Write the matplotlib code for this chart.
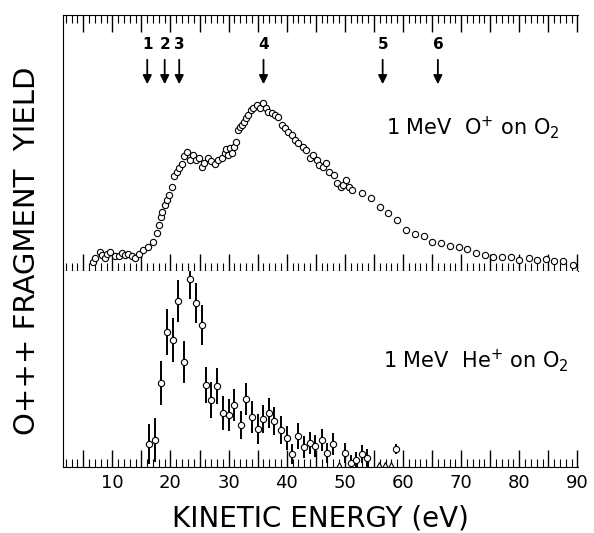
import matplotlib.pyplot as plt
import numpy as np

# upper panel: 1 MeV O+ on O2 (energy in eV, yield in arbitrary units)
o_energy = [6.65, 7.04, 7.79, 8.19, 8.76, 9.05, 9.62, 10.37, 11.22, 11.63, 12.09, 12.66,
            13.34, 13.92, 14.66, 15.35, 16.21, 16.95, 17.64, 17.99, 18.33, 18.61, 19.07,
            19.47, 19.82, 20.22, 20.68, 21.08, 21.48, 21.94, 22.39, 22.79, 23.37, 23.94,
            24.4, 24.97, 25.38, 25.77, 26.41, 26.92, 27.66, 28.23, 28.81, 29.38, 29.49,
            29.95, 30.24, 30.64, 30.93, 31.27, 31.67, 31.96, 32.36, 32.65, 32.93, 33.39,
            33.78, 34.24, 34.82, 35.4, 35.97, 36.43, 36.83, 37.4, 37.97, 38.54, 39.12,
            39.69, 40.26, 40.84, 41.41, 41.98, 42.73, 43.3, 43.99, 44.55, 45.13, 45.59,
            46.16, 46.74, 47.31, 48.11, 48.57, 49.26, 49.71, 50.17, 50.74, 51.14, 53.03,
            54.58, 56.0, 57.44, 58.99, 60.48, 62.03, 63.57, 65.06, 66.55, 68.04, 69.59,
            71.08, 72.51, 74.05, 75.49, 77.03, 78.52, 79.95, 81.67, 83.11, 84.54, 85.97,
            87.51, 89.2]
o_yield = [9.3, 12.7, 19.3, 16, 12.7, 17, 19.3, 15.3, 15.3, 18.3, 16, 16.7,
           15.3, 12.7, 16.7, 21, 24.3, 29.3, 38.3, 46, 54.3, 59.3, 66,
           71, 76, 84.3, 95, 99.3, 102.7, 107, 115, 119.3, 111, 116,
           111, 112.7, 104.3, 108.3, 112.7, 110.3, 107, 111, 112.7, 117.7, 121.7,
           116, 122.7, 117.7, 124.3, 129.3, 141, 144.3, 146, 148.7, 152.7, 156,
           161, 162.7, 166, 162.7, 167.7, 162.7, 159.3, 157.7, 156, 154.3, 146,
           142.7, 139.3, 136, 131, 127.7, 124.3, 121, 112.7, 116, 111, 106,
           104.3, 107.7, 99.3, 96, 87.7, 84.3, 86, 91, 84.3, 81, 77.7,
           72.7, 64.3, 57.7, 51, 41, 37, 35, 28.7, 27.7, 25, 24.3,
           21.7, 18.3, 16, 14.3, 14.3, 14.3, 11, 12.7, 11, 11.7, 10.3,
           10, 6]

# lower panel: 1 MeV He+ on O2, with error bars
he_energy = [16.38, 17.41, 18.33, 19.36, 20.39, 21.36, 22.34, 23.37, 24.4, 25.43, 26.12,
             27.03, 28.06, 28.98, 30.01, 30.98, 32.07, 32.99, 34.02, 35.0, 35.91, 36.89,
             37.86, 38.95, 39.98, 40.95, 41.92, 42.96, 43.99, 44.9, 46.0, 46.91, 47.89,
             50.0, 50.98, 51.89, 52.87, 53.83, 58.88]
he_yield = [22.7, 27, 83.7, 135.3, 127, 166.3, 105.3, 187.7, 163.7, 141.7, 81.7,
            67, 81, 53.7, 51.7, 61.7, 41.7, 68.3, 49.7, 37.7, 48.3, 53.7,
            46.3, 37, 28.7, 12.7, 31, 20.3, 24.3, 21.3, 26.7, 13.7, 22.7,
            14.3, 4.3, 7, 12.7, 9, 17.7]
he_err = [20, 22, 22, 23, 22, 21, 21, 20, 20, 20, 18,
          18, 18, 17, 16, 16, 14, 16, 16, 15, 14, 15,
          14, 14, 12, 10, 13, 11, 11, 11, 11, 10, 11,
          10, 8, 8, 9, 9, 5]
he_zero_energy = [48.92, 55.84, 56.87, 57.85]
he_zero_yield = [2, 2, 2, 2]

# arrows marking expected energies
arrow_energy = [16.0, 19.0, 21.5, 36.0, 56.5, 66.0]
arrow_labels = ['1', '2', '3', '4', '5', '6']

xtick_pos = list(range(5, 91, 5))
xtick_labels = ['' if p % 10 else str(p) for p in xtick_pos]

fig = plt.figure(figsize=(5.94, 5.33), dpi=100)
ax1 = fig.add_axes([0.106, 0.4916, 0.867, 0.4803])
ax2 = fig.add_axes([0.106, 0.1238, 0.867, 0.3677])

for ax in (ax1, ax2):
    ax.set_xlim(1.5, 90.1)
    ax.spines['right'].set_visible(False)
    ax.set_yticks([])
    ax.set_xticks(xtick_pos)
    ax.set_xticks(range(2, 91), minor=True)
    ax.tick_params(axis='x', which='major', direction='in', length=12, width=1.0)
    ax.tick_params(axis='x', which='minor', direction='in', length=6, width=0.8)

ax1.set_ylim(0, 256)
ax1.tick_params(axis='x', which='both', top=True, labelbottom=False)
ax1.plot(o_energy, o_yield, 'o', mfc='white', mec='black', ms=4.5, mew=0.8)
for e, lab in zip(arrow_energy, arrow_labels):
    ax1.annotate('', xy=(e, 184), xytext=(e, 214),
                 arrowprops=dict(arrowstyle='-|>', color='black', lw=1.3, mutation_scale=13))
    ax1.text(e, 219, lab, ha='center', va='bottom', fontsize=11, fontweight='bold')
ax1.text(57, 136, r'1 MeV  O$^{+}$ on O$_2$', fontsize=15)

ax2.set_ylim(0, 196)
ax2.spines['top'].set_visible(False)
ax2.set_xticklabels(xtick_labels, fontsize=13)
ax2.tick_params(axis='x', which='major', pad=5)
ax2.errorbar(he_energy, he_yield, yerr=he_err, fmt='o', mfc='white', mec='black',
             ecolor='black', elinewidth=1.4, capsize=0, ms=4.5, mew=0.8)
ax2.plot(he_zero_energy, he_zero_yield, '^', mfc='white', mec='black', ms=4, mew=0.8)
ax2.text(56.5, 100, r'1 MeV  He$^{+}$ on O$_2$', fontsize=15)

fig.text(0.54, 0.028, 'KINETIC ENERGY (eV)', ha='center', va='center', fontsize=20)
fig.text(0.045, 0.53, 'O+++ FRAGMENT  YIELD', rotation=90, ha='center', va='center',
         fontsize=21)

fig.savefig('out.png', dpi=100)
